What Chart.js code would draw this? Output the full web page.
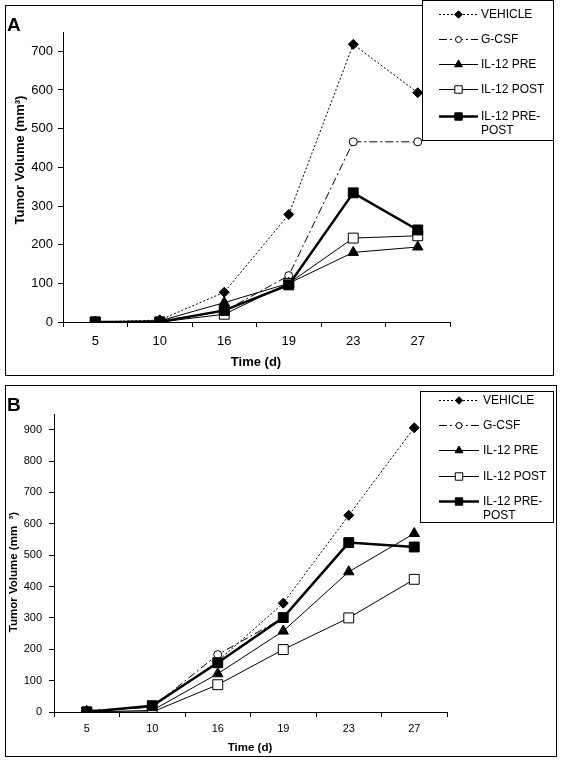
<!DOCTYPE html>
<html>
<head>
<meta charset="utf-8">
<script src="https://cdn.jsdelivr.net/npm/chart.js@4.4.1/dist/chart.umd.min.js"></script>
<style>
  body { margin: 0; background: #fff; }
  canvas { position: absolute; left: 0; }
  #chartA { top: 0; }
  #chartB { top: 381px; }
</style>
</head>
<body>
<canvas id="chartA" width="562" height="381"></canvas>
<canvas id="chartB" width="562" height="382"></canvas>
<script>
// data
const days = ['5', '10', '16', '19', '23', '27'];
const seriesNames = ['VEHICLE', 'G-CSF', 'IL-12 PRE', 'IL-12 POST', 'IL-12 PRE-POST'];

// panel A
const vehicleA = [0, 5, 77, 278, 718, 593];
const gcsfA = [0, 3, 28, 120, 466, 466];
const il12PreA = [0, 3, 50, 100, 180, 194];
const il12PostA = [0, 0, 20, 100, 217, 223];
const il12PrePostA = [0, 0, 30, 96, 334, 238];
const yTicksA = [0, 100, 200, 300, 400, 500, 600, 700];
const yMaxA = 750;

// panel B
const vehicleB = [5, 15, 162, 347, 627, 906];
const gcsfB = [5, 15, 183, 300, 540, 526];
const il12PreB = [0, 5, 122, 258, 447, 569];
const il12PostB = [0, 0, 87, 199, 300, 423];
const il12PrePostB = [0, 20, 157, 301, 540, 526];
const yTicksB = [0, 100, 200, 300, 400, 500, 600, 700, 800, 900];
const yMaxB = 950;

const FONT = 'Liberation Sans, Arial, sans-serif';

// look of each series (Excel-style black & white)
const seriesStyles = [
  { dash: [2, 2], width: 1, point: 'rectRot', radius: 5, fill: '#000' },
  { dash: [8, 3, 2, 3], width: 1, point: 'circle', radius: 4, fill: '#fff' },
  { dash: [], width: 1, point: 'triangle', radius: 6, fill: '#000' },
  { dash: [], width: 1, point: 'rect', radius: 7, fill: '#fff' },
  { dash: [], width: 2.5, point: 'rect', radius: 7, fill: '#000' },
];

function makeDatasets(seriesValues) {
  return seriesValues.map((values, i) => {
    const s = seriesStyles[i];
    return {
      label: seriesNames[i],
      data: values,
      borderColor: '#000',
      borderWidth: s.width,
      borderDash: s.dash,
      pointStyle: s.point,
      pointRadius: s.radius,
      pointBackgroundColor: s.fill,
      pointBorderColor: '#000',
      pointBorderWidth: 1,
      fill: false,
      tension: 0,
      order: seriesValues.length - i, // last series on top, like Excel
    };
  });
}

// frame, panel letter, axis titles and the boxed legend
const panelDecor = {
  id: 'panelDecor',
  afterDatasetsDraw(chart, args, o) {
    const ctx = chart.ctx;
    ctx.save();
    ctx.strokeStyle = '#000';
    ctx.lineWidth = 1;
    ctx.setLineDash([]);
    ctx.strokeRect(o.frame[0], o.frame[1], o.frame[2], o.frame[3]);

    // panel letter
    ctx.fillStyle = '#000';
    ctx.font = 'bold 19px ' + FONT;
    ctx.textAlign = 'left';
    ctx.textBaseline = 'alphabetic';
    ctx.fillText(o.letter, o.letterPos[0], o.letterPos[1]);

    // axis titles
    ctx.font = 'bold ' + o.titleSize + 'px ' + FONT;
    ctx.textAlign = 'center';
    ctx.textBaseline = 'middle';
    ctx.fillText('Time (d)', o.xTitle[0], o.xTitle[1]);
    ctx.save();
    ctx.translate(o.yTitle[0], o.yTitle[1]);
    ctx.rotate(-Math.PI / 2);
    ctx.fillText(o.yTitleText, 0, 0);
    ctx.restore();

    // legend box
    const [lx, ly, lw, lh] = o.legend;
    ctx.fillStyle = '#fff';
    ctx.fillRect(lx, ly, lw, lh);
    ctx.strokeRect(lx, ly, lw, lh);
    ctx.font = '12px ' + FONT;
    ctx.textAlign = 'left';
    const maxW = lx + lw - o.textX - 3;
    chart.data.datasets.forEach((ds, i) => {
      const y = o.rows[i];
      ctx.save();
      ctx.strokeStyle = '#000';
      ctx.lineWidth = ds.borderWidth;
      ctx.setLineDash(ds.borderDash);
      ctx.beginPath();
      ctx.moveTo(o.sample[0], y + 0.5);
      ctx.lineTo(o.sample[1], y + 0.5);
      ctx.stroke();
      ctx.setLineDash([]);
      ctx.lineWidth = 1;
      ctx.fillStyle = ds.pointBackgroundColor;
      Chart.helpers.drawPoint(ctx, {
        pointStyle: ds.pointStyle, radius: ds.pointRadius * 0.75, rotation: 0, borderWidth: 1,
      }, (o.sample[0] + o.sample[1]) / 2, y + 0.5);
      ctx.restore();

      // wrap long labels after a hyphen
      ctx.fillStyle = '#000';
      let text = ds.label;
      const lines = [];
      if (ctx.measureText(text).width > maxW && text.lastIndexOf('-') > 0) {
        const cut = text.lastIndexOf('-') + 1;
        lines.push(text.slice(0, cut), text.slice(cut));
      } else {
        lines.push(text);
      }
      lines.forEach((t, k) => ctx.fillText(t, o.textX, y + 1 + k * 14));
    });
    ctx.restore();
  },
};

function makeChart(id, seriesValues, cfg) {
  const tickTop = cfg.ticks[cfg.ticks.length - 1];
  return new Chart(document.getElementById(id), {
    type: 'line',
    data: { labels: days, datasets: makeDatasets(seriesValues) },
    plugins: [panelDecor],
    options: {
      responsive: false,
      animation: false,
      devicePixelRatio: 1,
      layout: { padding: { left: 0, right: cfg.padRight, top: cfg.padTop, bottom: 0 } },
      plugins: {
        legend: { display: false },
        tooltip: { enabled: false },
        panelDecor: cfg.decor,
      },
      scales: {
        x: {
          type: 'category',
          offset: true,
          grid: { drawOnChartArea: false, offset: true, tickLength: 5, color: '#000' },
          border: { color: '#000', width: 1 },
          ticks: { color: '#000', font: { family: FONT, size: cfg.xTickSize }, padding: cfg.xTickPad, maxRotation: 0 },
          afterFit: (s) => { s.height = cfg.xHeight; s.paddingLeft = 0; s.paddingRight = 0; },
        },
        y: {
          min: 0,
          max: cfg.max,
          grid: { drawOnChartArea: false, tickLength: 5, color: '#000' },
          border: { color: '#000', width: 1 },
          ticks: { stepSize: 100, color: '#000', font: { family: FONT, size: cfg.yTickSize }, padding: cfg.yTickPad },
          afterBuildTicks: (s) => { s.ticks = s.ticks.filter(t => cfg.ticks.includes(t.value) && t.value <= tickTop); },
          afterFit: (s) => { s.width = cfg.yWidth; s.paddingTop = 0; s.paddingBottom = 0; },
        },
      },
    },
  });
}

makeChart('chartA', [vehicleA, gcsfA, il12PreA, il12PostA, il12PrePostA], {
  max: yMaxA, ticks: yTicksA,
  padRight: 112, padTop: 32, yWidth: 63, xHeight: 59,
  xTickSize: 13, yTickSize: 13, xTickPad: 7, yTickPad: 5,
  decor: {
    frame: [5.5, 5.5, 548, 370],
    letter: 'A', letterPos: [7, 31],
    titleSize: 13, xTitle: [256, 362], yTitle: [20, 160],
    yTitleText: 'Tumor Volume (mm³)',
    legend: [422.5, 0.5, 131, 140],
    rows: [14, 39, 64, 89, 116],
    sample: [439, 478], textX: 481,
  },
});

makeChart('chartB', [vehicleB, gcsfB, il12PreB, il12PostB, il12PrePostB], {
  max: yMaxB, ticks: yTicksB,
  padRight: 115, padTop: 33, yWidth: 54, xHeight: 51,
  xTickSize: 11, yTickSize: 11, xTickPad: 5, yTickPad: 7,
  decor: {
    frame: [5.5, 4.5, 551, 371],
    letter: 'B', letterPos: [7, 30],
    titleSize: 11.5, xTitle: [250, 367], yTitle: [14, 191],
    yTitleText: 'Tumor Volume (mm  ³)',
    legend: [420.5, 10.5, 133, 131],
    rows: [19, 44, 69, 95, 120],
    sample: [439, 479], textX: 483,
  },
});
</script>
</body>
</html>
